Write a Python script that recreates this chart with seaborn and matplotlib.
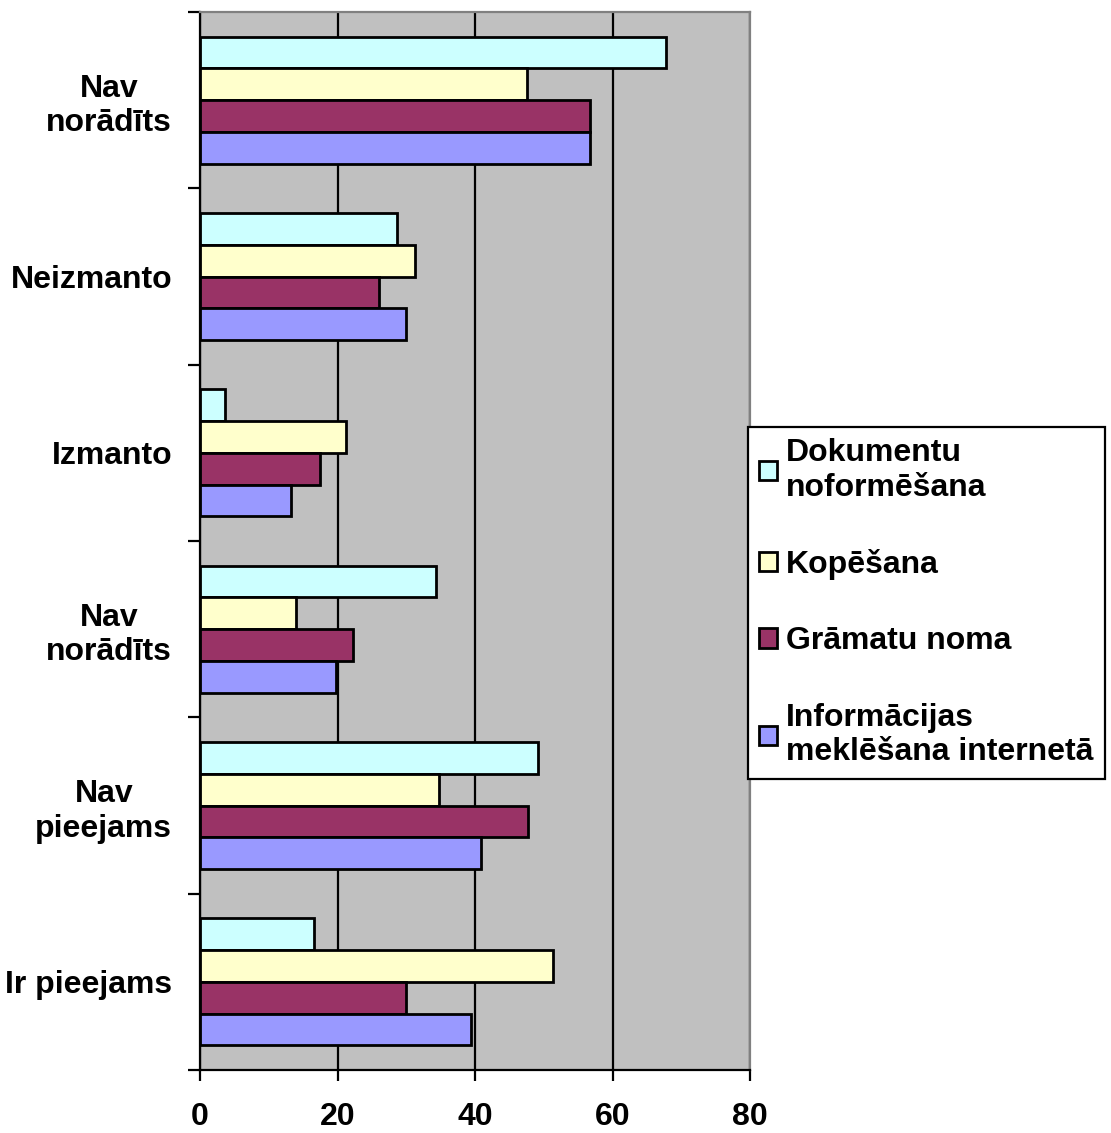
import numpy as np
import pandas as pd
import seaborn as sns
from matplotlib import pyplot as plt

# category labels, top to bottom (two groups share the same label)
categories = ['Nav\nnorādīts', 'Neizmanto', 'Izmanto', 'Nav\nnorādīts', 'Nav\npieejams', 'Ir pieejams']
series = ['Dokumentu\nnoformēšana', 'Kopēšana', 'Grāmatu noma', 'Informācijas\nmeklēšana internetā']

dokumentu = [67.8, 28.7, 3.7, 34.3, 49.1, 16.6]
kopesana = [47.6, 31.2, 21.2, 13.9, 34.7, 51.4]
gramatu = [56.7, 26.0, 17.4, 22.3, 47.7, 30.0]
informacijas = [56.7, 30.0, 13.3, 19.8, 40.8, 39.4]

colors = ['#CCFFFF', '#FFFFCC', '#993366', '#9999FF']
x_ticks = [0, 20, 40, 60, 80]

sns.set_style('ticks')
plt.rcParams['font.family'] = ['Liberation Sans', 'DejaVu Sans']
plt.rcParams['font.weight'] = 'bold'
plt.rcParams['text.color'] = 'black'
plt.rcParams['xtick.color'] = 'black'
plt.rcParams['ytick.color'] = 'black'

group_keys = [f'g{i}' for i in range(len(categories))]
rows = []
for name, values in zip(series, [dokumentu, kopesana, gramatu, informacijas]):
    for key, v in zip(group_keys, values):
        rows.append({'group': key, 'series': name, 'value': v})
df = pd.DataFrame(rows)

fig = plt.figure(figsize=(11.11, 11.33), dpi=100)
ax = fig.add_axes([200 / 1111, 1 - 1070 / 1133, 550 / 1111, (1070 - 12) / 1133])
ax.set_facecolor('#C0C0C0')

sns.barplot(
    data=df, x='value', y='group', hue='series', orient='h',
    order=group_keys, hue_order=series, palette=colors, saturation=1,
    width=0.72, edgecolor='black', linewidth=2.0, ax=ax,
)

ax.set_xlim(0, 80)
ax.set_ylim(5.5, -0.5)
ax.set_xlabel('')
ax.set_ylabel('')

# vertical grid lines
ax.set_axisbelow(True)
ax.xaxis.grid(True, color='black', linewidth=1.6)
ax.get_xgridlines()[-1].set_visible(False)

for side in ['left', 'bottom']:
    ax.spines[side].set_color('black')
    ax.spines[side].set_linewidth(1.6)
for side in ['top', 'right']:
    ax.spines[side].set_visible(True)
    ax.spines[side].set_color('#808080')
    ax.spines[side].set_linewidth(1.6)

ax.set_xticks(x_ticks)
ax.set_xticklabels([str(t) for t in x_ticks], fontsize=23, fontweight='bold', color='black')
ax.tick_params(axis='x', direction='out', length=8, width=1.6, pad=15)

ax.set_yticks(range(len(categories)))
ax.set_yticklabels(categories, fontsize=23, fontweight='bold', color='black', multialignment='center')
ax.tick_params(axis='y', which='major', length=0, pad=20)
ax.set_yticks(np.arange(-0.5, len(categories), 1.0), minor=True)
ax.tick_params(axis='y', which='minor', direction='out', length=9, width=1.6)

handles, labels = ax.get_legend_handles_labels()
if ax.get_legend() is not None:
    ax.get_legend().remove()
leg = fig.legend(
    handles, labels, loc='upper left', bbox_to_anchor=(748 / 1111, 1 - 427 / 1133),
    prop={'weight': 'bold', 'size': 23}, frameon=True, fancybox=False,
    edgecolor='black', framealpha=1, handlelength=0.55, handleheight=0.55,
    handletextpad=0.3, labelspacing=1.45, borderpad=0.35, borderaxespad=0,
)
leg.get_frame().set_linewidth(1.6)
for t in leg.get_texts():
    t.set_color('black')

fig.savefig('out.png', dpi=100)
